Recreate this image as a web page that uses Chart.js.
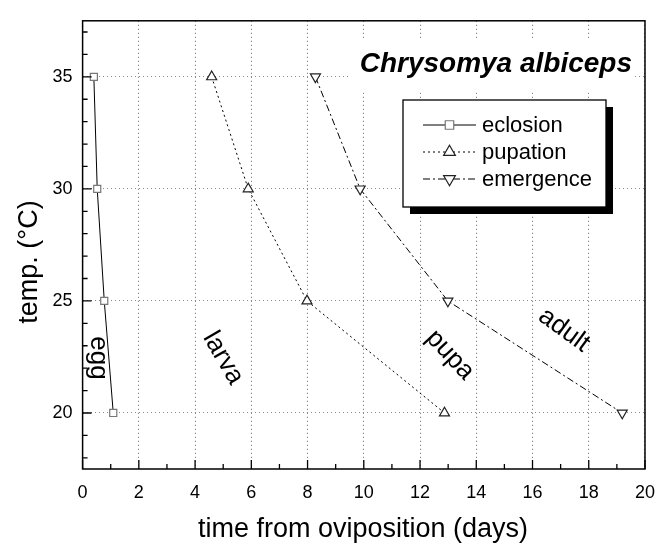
<!DOCTYPE html>
<html>
<head>
<meta charset="utf-8">
<script src="https://cdn.jsdelivr.net/npm/chart.js@4/dist/chart.umd.min.js"></script>
<style>
  html, body { margin: 0; padding: 0; background: #fff; }
  #wrap { width: 668px; height: 548px; position: relative; }
</style>
</head>
<body>
<div id="wrap"><canvas id="chart"></canvas></div>
<script>
const temps = [35, 30, 25, 20];
const eclosionDays = [0.40, 0.52, 0.77, 1.09];
const pupationDays = [4.59, 5.89, 7.98, 12.87];
const emergenceDays = [8.28, 9.87, 12.99, 19.19];

const xTicks = [0, 2, 4, 6, 8, 10, 12, 14, 16, 18, 20];
const yTicks = [20, 25, 30, 35];
const xMinor = [1, 3, 5, 7, 9, 11, 13, 15, 17, 19];
const yMinor = [18, 19, 21, 22, 23, 24, 26, 27, 28, 29, 31, 32, 33, 34, 36, 37];

const stageLabels = [
  { text: "egg", x: 98, y: 358, angle: 90 },
  { text: "larva", x: 223, y: 358, angle: 60 },
  { text: "pupa", x: 450, y: 355, angle: 47 },
  { text: "adult", x: 564, y: 330, angle: 36 },
];

const FONT = "'Liberation Sans', Arial, sans-serif";

function toPoints(xs) {
  return xs.map((x, i) => ({ x, y: temps[i] }));
}

function drawMarker(ctx, style, x, y, r) {
  ctx.beginPath();
  if (style === "rect") {
    const s = r * Math.SQRT1_2;
    ctx.rect(x - s, y - s, 2 * s, 2 * s);
  } else {
    const dir = style === "down" ? -1 : 1;
    for (let k = 0; k < 3; k++) {
      const a = k * 2 * Math.PI / 3;
      const px = x + Math.sin(a) * r * dir;
      const py = y - Math.cos(a) * r * dir;
      if (k === 0) ctx.moveTo(px, py); else ctx.lineTo(px, py);
    }
    ctx.closePath();
  }
  ctx.fill();
  ctx.stroke();
}

const decorPlugin = {
  id: "decor",
  afterDatasetsDraw(chart) {
    const { ctx, chartArea: a, scales } = chart;
    const xs = scales.x;
    const ys = scales.y;
    ctx.save();

    // axis box
    ctx.strokeStyle = "#000";
    ctx.lineWidth = 1.5;
    ctx.strokeRect(a.left, a.top, a.right - a.left, a.bottom - a.top);

    // inward ticks
    ctx.lineWidth = 1.3;
    ctx.beginPath();
    xTicks.forEach((v) => {
      const p = xs.getPixelForValue(v);
      ctx.moveTo(p, a.bottom); ctx.lineTo(p, a.bottom - 9);
    });
    xMinor.forEach((v) => {
      const p = xs.getPixelForValue(v);
      ctx.moveTo(p, a.bottom); ctx.lineTo(p, a.bottom - 5);
    });
    yTicks.forEach((v) => {
      const p = ys.getPixelForValue(v);
      ctx.moveTo(a.left, p); ctx.lineTo(a.left + 9, p);
    });
    yMinor.forEach((v) => {
      const p = ys.getPixelForValue(v);
      ctx.moveTo(a.left, p); ctx.lineTo(a.left + 5, p);
    });
    ctx.stroke();

    // title with white background
    ctx.fillStyle = "#fff";
    ctx.fillRect(350, 40, 282, 50);
    ctx.fillStyle = "#000";
    ctx.font = `italic bold 28px ${FONT}`;
    ctx.textAlign = "right";
    ctx.textBaseline = "alphabetic";
    ctx.fillText("Chrysomya albiceps", 632, 72);

    // legend with drop shadow
    const lx = 403, ly = 100, lw = 203, lh = 107;
    ctx.fillStyle = "#000";
    ctx.fillRect(lx + 7, ly + 7, lw, lh);
    ctx.fillStyle = "#fff";
    ctx.fillRect(lx, ly, lw, lh);
    ctx.strokeStyle = "#000";
    ctx.lineWidth = 1.3;
    ctx.strokeRect(lx, ly, lw, lh);

    chart.data.datasets.forEach((ds, i) => {
      const rowY = 125 + i * 27;
      ctx.strokeStyle = "#000";
      ctx.lineWidth = 1;
      ctx.setLineDash(ds.borderDash || []);
      ctx.beginPath();
      ctx.moveTo(423, rowY);
      ctx.lineTo(476, rowY);
      ctx.stroke();
      ctx.setLineDash([]);
      ctx.fillStyle = "#fff";
      ctx.strokeStyle = ds.pointBorderColor;
      ctx.lineWidth = 1.2;
      const style = ds.pointStyle === "rect" ? "rect" : (ds.pointRotation === 180 ? "down" : "up");
      drawMarker(ctx, style, 449.5, rowY, ds.pointRadius + 1);
      ctx.fillStyle = "#000";
      ctx.font = `22px ${FONT}`;
      ctx.textAlign = "left";
      ctx.textBaseline = "middle";
      ctx.fillText(ds.label, 482, rowY + 1);
    });

    // stage labels
    ctx.font = `26px ${FONT}`;
    ctx.fillStyle = "#000";
    ctx.textAlign = "center";
    ctx.textBaseline = "middle";
    stageLabels.forEach((s) => {
      ctx.save();
      ctx.translate(s.x, s.y);
      ctx.rotate(s.angle * Math.PI / 180);
      ctx.fillText(s.text, 0, 0);
      ctx.restore();
    });

    // axis titles
    ctx.font = `27px ${FONT}`;
    ctx.textAlign = "center";
    ctx.textBaseline = "middle";
    ctx.fillText("time from oviposition (days)", 363, 530);
    ctx.save();
    ctx.translate(29.5, 262);
    ctx.rotate(-Math.PI / 2);
    ctx.fillText("temp. (°C)", 0, 0);
    ctx.restore();

    ctx.restore();
  },
};

new Chart(document.getElementById("chart"), {
  type: "scatter",
  data: {
    datasets: [
      {
        label: "eclosion",
        data: toPoints(eclosionDays),
        showLine: true,
        borderColor: "#000",
        borderWidth: 1,
        borderDash: [],
        pointStyle: "rect",
        pointRadius: 5,
        pointBorderColor: "#777",
        pointBackgroundColor: "#fff",
        pointBorderWidth: 1.2,
      },
      {
        label: "pupation",
        data: toPoints(pupationDays),
        showLine: true,
        borderColor: "#000",
        borderWidth: 1,
        borderDash: [2, 3],
        pointStyle: "triangle",
        pointRadius: 5.8,
        pointBorderColor: "#222",
        pointBackgroundColor: "#fff",
        pointBorderWidth: 1.2,
      },
      {
        label: "emergence",
        data: toPoints(emergenceDays),
        showLine: true,
        borderColor: "#000",
        borderWidth: 1,
        borderDash: [7, 3, 2, 3],
        pointStyle: "triangle",
        pointRotation: 180,
        pointRadius: 5.8,
        pointBorderColor: "#222",
        pointBackgroundColor: "#fff",
        pointBorderWidth: 1.2,
      },
    ],
  },
  options: {
    responsive: true,
    maintainAspectRatio: false,
    animation: false,
    layout: { padding: { top: 11, right: 22.4, left: 0, bottom: 0 } },
    plugins: { legend: { display: false }, tooltip: { enabled: false } },
    scales: {
      x: {
        type: "linear",
        min: 0,
        max: 20,
        afterBuildTicks: (axis) => { axis.ticks = xTicks.map((v) => ({ value: v })); },
        afterFit: (scale) => { scale.height = 79; },
        grid: { color: "#666", drawTicks: false, lineWidth: 1 },
        border: { display: false, dash: [1, 3] },
        ticks: { color: "#000", padding: 13, maxRotation: 0, font: { family: FONT, size: 18 } },
      },
      y: {
        type: "linear",
        min: 17.5,
        max: 37.5,
        afterBuildTicks: (axis) => { axis.ticks = yTicks.map((v) => ({ value: v })); },
        afterFit: (scale) => { scale.width = 82.6; },
        grid: { color: "#888", drawTicks: false, lineWidth: 1 },
        border: { display: false, dash: [1, 3] },
        ticks: { color: "#000", padding: 10, font: { family: FONT, size: 18 } },
      },
    },
  },
  plugins: [decorPlugin],
});
</script>
</body>
</html>
